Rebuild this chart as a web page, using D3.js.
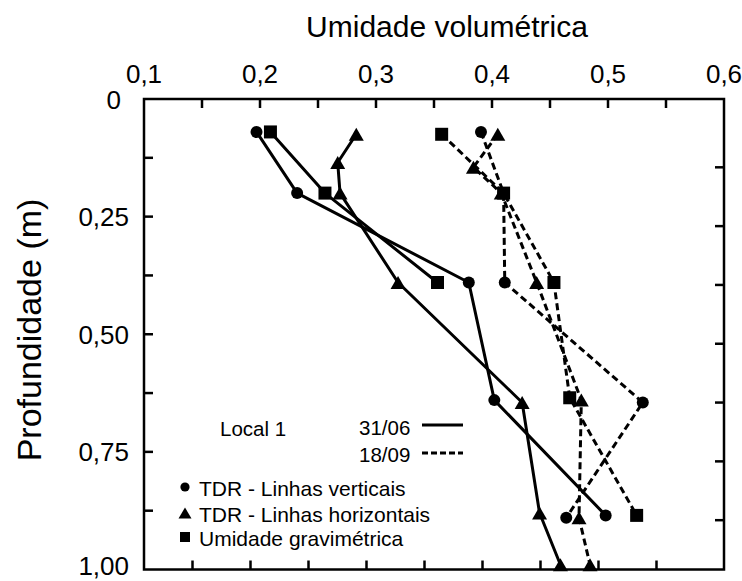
<!DOCTYPE html>
<html>
<head>
<meta charset="utf-8">
<script src="https://cdn.jsdelivr.net/npm/d3@7"></script>
<style>
  html, body { margin: 0; padding: 0; background: #fff; }
  svg { display: block; font-family: "Liberation Sans", Arial, sans-serif; }
</style>
</head>
<body>
<svg id="chart" width="742" height="581"></svg>
<script>
// Volumetric water content (x) by depth (m), two dates, three methods
const tdrVertDepth3106 = [0.07, 0.2, 0.39, 0.64, 0.885];
const tdrVert3106      = [0.197, 0.232, 0.380, 0.402, 0.498];
const tdrHorDepth3106  = [0.075, 0.135, 0.2, 0.39, 0.645, 0.88, 0.99];
const tdrHor3106       = [0.283, 0.267, 0.269, 0.319, 0.426, 0.441, 0.459];
const gravDepth3106    = [0.07, 0.2, 0.39];
const grav3106         = [0.209, 0.256, 0.353];

const tdrVertDepth1809 = [0.07, 0.2, 0.39, 0.645, 0.89];
const tdrVert1809      = [0.3905, 0.41, 0.411, 0.530, 0.464];
const tdrHorDepth1809  = [0.075, 0.145, 0.2, 0.39, 0.64, 0.89, 0.99];
const tdrHor1809       = [0.405, 0.384, 0.408, 0.4385, 0.477, 0.475, 0.4845];
const gravDepth1809    = [0.075, 0.2, 0.39, 0.635, 0.885];
const grav1809         = [0.3566, 0.41, 0.4534, 0.467, 0.5247];

// Axis ticks and labels
const xMinorTicks = [0.15, 0.2, 0.25, 0.3, 0.35, 0.4, 0.45, 0.5, 0.55];
const xLabelVals  = [0.1, 0.2, 0.3, 0.4, 0.5, 0.6];
const xLabels     = ["0,1", "0,2", "0,3", "0,4", "0,5", "0,6"];
const yMinorTicks = [0.125, 0.25, 0.375, 0.5, 0.625, 0.75, 0.875];
const yLabelVals  = [0, 0.25, 0.5, 0.75, 1.0];
const yLabels     = ["0", "0,25", "0,50", "0,75", "1,00"];

const xTitle = "Umidade volumétrica";
const yTitle = "Profundidade (m)";
const siteLabel = "Local 1";
const dateLabels = ["31/06", "18/09"];
const methodLabels = ["TDR - Linhas verticais", "TDR - Linhas horizontais", "Umidade gravimétrica"];

const svg = d3.select("#chart");
const plotLeft = 144, plotRight = 724, plotTop = 99, plotBottom = 569.5;

const x = d3.scaleLinear().domain([0.1, 0.6]).range([plotLeft, plotRight]);
const y = d3.scaleLinear().domain([0, 1]).range([plotTop, plotBottom]);

// marker shapes (triangle centred on its bounding box)
function triPath(s, h) {
  return `M0,${-h / 2}L${s / 2},${h / 2}L${-s / 2},${h / 2}Z`;
}
function sqPath(s) {
  return `M${-s / 2},${-s / 2}h${s}v${s}h${-s}Z`;
}
function circPath(r) {
  return `M${r},0A${r},${r} 0 1,1 ${-r},0A${r},${r} 0 1,1 ${r},0Z`;
}
const markerPath = {
  circle: circPath(6),
  triangle: triPath(15, 13),
  square: sqPath(13)
};
const legendPath = {
  circle: circPath(4.6),
  triangle: triPath(13, 11),
  square: sqPath(10)
};

const zip = (vals, depths) => vals.map((v, i) => ({ v, d: depths[i] }));
const series = [
  { pts: zip(tdrVert3106, tdrVertDepth3106), shape: "circle", dashed: false },
  { pts: zip(tdrHor3106, tdrHorDepth3106), shape: "triangle", dashed: false },
  { pts: zip(grav3106, gravDepth3106), shape: "square", dashed: false },
  { pts: zip(tdrVert1809, tdrVertDepth1809), shape: "circle", dashed: true },
  { pts: zip(tdrHor1809, tdrHorDepth1809), shape: "triangle", dashed: true },
  { pts: zip(grav1809, gravDepth1809), shape: "square", dashed: true }
];

const line = d3.line().x(p => x(p.v)).y(p => y(p.d));

const plot = svg.append("g");
series.forEach(s => {
  plot.append("path")
    .attr("d", line(s.pts))
    .attr("fill", "none")
    .attr("stroke", "#000")
    .attr("stroke-width", 3)
    .attr("stroke-dasharray", s.dashed ? "7,4" : null)
    .attr("stroke-linejoin", "round");
});
series.forEach(s => {
  plot.selectAll(null).data(s.pts).enter().append("path")
    .attr("d", markerPath[s.shape])
    .attr("transform", p => `translate(${x(p.v)},${y(p.d)})`)
    .attr("fill", "#000");
});

// frame
const axisStroke = 2.5;
const frame = svg.append("g").attr("stroke", "#000").attr("stroke-width", axisStroke).attr("fill", "none");
frame.append("rect").attr("x", plotLeft).attr("y", plotTop)
  .attr("width", plotRight - plotLeft).attr("height", plotBottom - plotTop);

const tickLen = 9;
// top ticks
frame.selectAll(null).data(xMinorTicks).enter().append("line")
  .attr("x1", d => x(d)).attr("x2", d => x(d))
  .attr("y1", plotTop).attr("y2", plotTop + tickLen);
// bottom ticks (secondary axis, slightly offset)
frame.selectAll(null).data(xMinorTicks).enter().append("line")
  .attr("x1", d => x(d) - 9.5).attr("x2", d => x(d) - 9.5)
  .attr("y1", plotBottom).attr("y2", plotBottom - tickLen);
// left ticks
frame.selectAll(null).data(yMinorTicks).enter().append("line")
  .attr("y1", d => y(d)).attr("y2", d => y(d))
  .attr("x1", plotLeft).attr("x2", plotLeft + tickLen);
// right ticks (secondary axis, slightly offset)
frame.selectAll(null).data(yMinorTicks).enter().append("line")
  .attr("y1", d => y(d) + 9.5).attr("y2", d => y(d) + 9.5)
  .attr("x1", plotRight).attr("x2", plotRight - tickLen);

// tick labels
const labelSize = 26;
svg.selectAll(null).data(xLabelVals).enter().append("text")
  .attr("x", d => x(d))
  .attr("y", 83)
  .attr("text-anchor", "middle")
  .attr("font-size", labelSize)
  .text((d, i) => xLabels[i]);

svg.selectAll(null).data(yLabelVals).enter().append("text")
  .attr("x", (d, i) => i === 0 ? 121 : 129)
  .attr("y", d => Math.min(y(d) + 9.5, 575))
  .attr("text-anchor", "end")
  .attr("font-size", labelSize)
  .text((d, i) => yLabels[i]);

// axis titles
svg.append("text")
  .attr("x", 447).attr("y", 37)
  .attr("text-anchor", "middle")
  .attr("font-size", 30)
  .text(xTitle);

svg.append("text")
  .attr("transform", `translate(41,330) rotate(-90)`)
  .attr("text-anchor", "middle")
  .attr("font-size", 34)
  .text(yTitle);

// legend
const lg = svg.append("g").attr("font-size", 20.5);
lg.append("text").attr("x", 220).attr("y", 436).text(siteLabel);
lg.append("text").attr("x", 359).attr("y", 435).text(dateLabels[0]);
lg.append("text").attr("x", 359).attr("y", 462).text(dateLabels[1]);
lg.append("line").attr("x1", 422).attr("x2", 463).attr("y1", 425).attr("y2", 425)
  .attr("stroke", "#000").attr("stroke-width", 3);
lg.append("line").attr("x1", 422).attr("x2", 463).attr("y1", 453).attr("y2", 453)
  .attr("stroke", "#000").attr("stroke-width", 3).attr("stroke-dasharray", "6,3");

const legendShapes = ["circle", "triangle", "square"];
const legendRows = [487, 513, 537];
legendShapes.forEach((s, i) => {
  lg.append("path").attr("d", legendPath[s])
    .attr("transform", `translate(185,${legendRows[i]})`)
    .attr("fill", "#000");
  lg.append("text").attr("x", 199).attr("y", legendRows[i] + 8.5)
    .attr("font-size", 21)
    .text(methodLabels[i]);
});
</script>
</body>
</html>
